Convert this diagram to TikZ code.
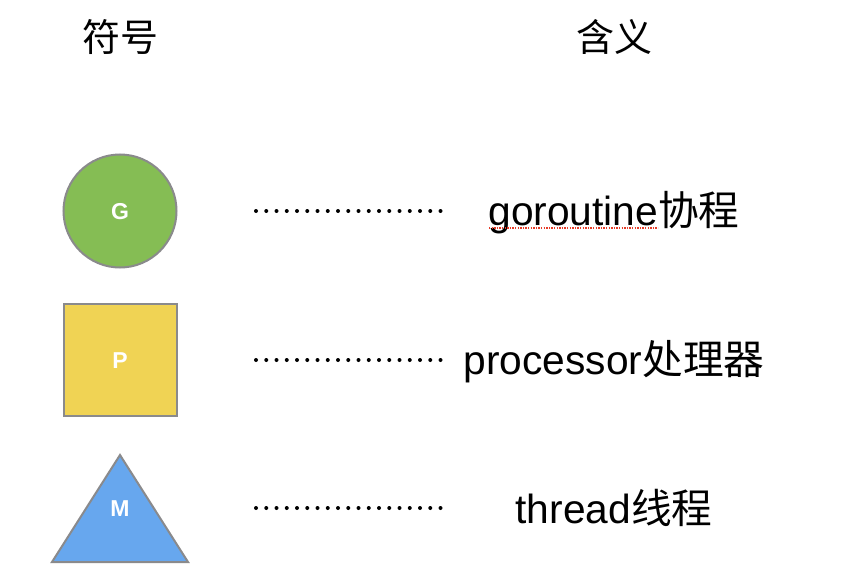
\documentclass[tikz,border=0pt]{standalone}
\usepackage{fontspec}
\setmainfont{Liberation Sans}
\newfontfamily\cjk{Noto Sans CJK SC}
\newfontfamily\lab{Liberation Sans}
\definecolor{ggreen}{RGB}{133,189,84}
\definecolor{pyellow}{RGB}{240,211,84}
\definecolor{mblue}{RGB}{103,167,238}
\definecolor{edgegray}{RGB}{138,138,140}
\definecolor{spellred}{RGB}{230,60,40}
\tikzset{
  symlabel/.style={text=white,font=\lab\bfseries\fontsize{23}{23}\selectfont,inner sep=0pt},
  header/.style={font=\cjk\fontsize{38}{38}\selectfont,inner sep=0pt},
  meaning/.style={font=\fontsize{40.7}{41}\selectfont,inner sep=0pt,anchor=base},
  dotline/.style={line width=4pt,line cap=round,dash pattern=on 0pt off 10.25pt},
  shapeedge/.style={draw=edgegray,line width=2pt},
}
\begin{document}
\begin{tikzpicture}[x=1pt,y=-1pt]
\useasboundingbox[fill=white] (0,0) rectangle (850,567);
% headers
\node[header] (h1) at (120,37) {符号};
\node[header] (h2) at (614,37) {含义};
% G circle
\node[circle,shapeedge,fill=ggreen,minimum size=113pt,inner sep=0pt] (g) at (120,211) {};
\node[symlabel] (gl) at (120,212) {G};
% P square
\node[rectangle,shapeedge,fill=pyellow,minimum width=113pt,minimum height=112pt,inner sep=0pt] (p) at (120,360) {};
\node[symlabel] (pl) at (120,361) {P};
% M triangle
\coordinate (ma) at (120,455);
\coordinate (mb) at (52,562);
\coordinate (mc) at (188,562);
\filldraw[fill=mblue,draw=edgegray,line width=2pt,line join=miter] (ma) -- (mb) -- (mc) -- cycle;
\node[symlabel] (ml) at (120,509) {M};
% dotted lines
\coordinate (d1a) at (256,211); \coordinate (d1b) at (441,211);
\coordinate (d2a) at (256,360); \coordinate (d2b) at (441,360);
\coordinate (d3a) at (256,508); \coordinate (d3b) at (441,508);
\draw[dotline] (d1a) -- (d1b);
\draw[dotline] (d2a) -- (d2b);
\draw[dotline] (d3a) -- (d3b);
% meanings
\node[meaning] (t1) at (614,225) {goroutine{\cjk 协程}};
\node[meaning] (t2) at (614,374) {processor{\cjk 处理器}};
\node[meaning] (t3) at (614,523) {thread{\cjk 线程}};
% spellcheck underline
\coordinate (u1) at (489,228); \coordinate (u2) at (658,228);
\draw[spellred,line width=1.4pt,dash pattern=on 1.4pt off 1.2pt] (u1) -- (u2);
\end{tikzpicture}
\end{document}
